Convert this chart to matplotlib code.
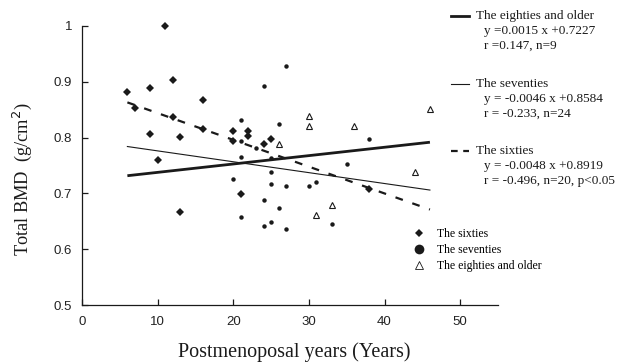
import matplotlib
matplotlib.use("Agg")
import matplotlib.pyplot as plt
from matplotlib.lines import Line2D
import numpy as np

# Bone mineral density against years since menopause, by age group
sixties_x = [6, 7, 9, 9, 10, 11, 12, 12, 13, 13, 16, 16, 20, 20, 21, 22, 22, 24, 25, 38]
sixties_y = [0.882, 0.853, 0.889, 0.806, 0.760, 1.000, 0.903, 0.837, 0.801, 0.667,
             0.867, 0.815, 0.812, 0.794, 0.699, 0.812, 0.803, 0.788, 0.797, 0.707]

seventies_x = [27, 24, 21, 26, 21, 23, 21, 25, 25, 20, 25, 27, 30, 31, 24, 26, 21, 24,
               25, 27, 33, 38, 35]
seventies_y = [0.928, 0.892, 0.832, 0.824, 0.794, 0.781, 0.765, 0.764, 0.739, 0.726,
               0.716, 0.713, 0.713, 0.721, 0.689, 0.674, 0.658, 0.642, 0.649, 0.636,
               0.645, 0.797, 0.753]

eighties_x = [26, 30, 30, 36, 46, 44, 33, 31]
eighties_y = [0.788, 0.839, 0.821, 0.821, 0.852, 0.739, 0.680, 0.661]

# Regression lines over the observed range
fit_x = [6, 46]
sixties_fit = (-0.0048, 0.8919)
eighties_fit = (0.0015, 0.7227)
seventies_line_y = [0.784, 0.706]

legend_texts = [
    ("The eighties and older", "y =0.0015 x +0.7227", "r =0.147, n=9"),
    ("The seventies", "y = -0.0046 x +0.8584", "r = -0.233, n=24"),
    ("The sixties", "y = -0.0048 x +0.8919", "r = -0.496, n=20, p<0.05"),
]

W, H = 618, 362
fig = plt.figure(figsize=(W / 100, H / 100), dpi=100)
ax = fig.add_axes([82 / W, 1 - 305 / H, 416 / W, 279 / H])

SERIF = ["Liberation Serif", "DejaVu Serif"]
SANS = ["Liberation Sans", "DejaVu Sans"]
INK = "#1a1a1a"

fx = np.array(fit_x, dtype=float)
ax.plot(fx, eighties_fit[0] * fx + eighties_fit[1], color=INK, lw=2.0,
        solid_capstyle="butt")
ax.plot(fx, seventies_line_y, color=INK, lw=0.8)
ax.plot(fx, sixties_fit[0] * fx + sixties_fit[1], color=INK, lw=1.6,
        dashes=(3.5, 4.5))

ax.plot(sixties_x, sixties_y, "D", color=INK, ms=4.2, mew=0, ls="none", clip_on=False)
ax.plot(seventies_x, seventies_y, "o", color=INK, ms=3.2, mew=0, ls="none",
        clip_on=False)
ax.plot(eighties_x, eighties_y, "^", mfc="white", mec=INK, ms=5.0, mew=0.8,
        ls="none", clip_on=False)

ax.set_xlim(0, 55)
ax.set_ylim(0.5, 1.0)
ax.set_xticks([0, 10, 20, 30, 40, 50])
ax.set_yticks([0.5, 0.6, 0.7, 0.8, 0.9, 1.0])
ax.set_yticklabels(["0.5", "0.6", "0.7", "0.8", "0.9", "1"])
for s in ("top", "right"):
    ax.spines[s].set_visible(False)
for s in ("left", "bottom"):
    ax.spines[s].set_linewidth(0.9)
    ax.spines[s].set_color(INK)
ax.tick_params(direction="in", length=4, width=0.9, color=INK,
               labelsize=9.5, labelcolor="#222222")
ax.tick_params(axis="x", pad=8)
ax.tick_params(axis="y", pad=7)
for lab in ax.get_xticklabels() + ax.get_yticklabels():
    lab.set_family(SANS)

fig.text(178 / W, 1 - 352 / H, "Postmenoposal years (Years)", family=SERIF,
         fontsize=14.5, ha="left", va="center", color=INK)
fig.text(22 / W, 1 - 179 / H, "Total BMD  (g/cm$^2$)", family=SERIF,
         fontsize=13.2, rotation=90, ha="center", va="center", color=INK)

# Regression legend block
def px(x, y):
    return x / W, 1 - y / H

rows = [(16, 2.0, None), (84, 0.8, None), (151, 1.6, (3.0, 2.5))]
for (ty, lw, dash), (title, eq, stat) in zip(rows, legend_texts):
    x0, y0 = px(451, ty)
    x1, _ = px(469, ty)
    ln = Line2D([x0, x1], [y0, y0], color=INK, lw=lw, transform=fig.transFigure)
    if dash:
        ln.set_dashes(dash)
    fig.add_artist(ln)
    fig.text(*px(476, ty), title, family=SERIF, fontsize=9.5, va="center", color=INK)
    fig.text(*px(484, ty + 15), eq, family=SERIF, fontsize=9.5, va="center", color=INK)
    fig.text(*px(484, ty + 30), stat, family=SERIF, fontsize=9.5, va="center", color=INK)

# Group marker legend
handles = [
    Line2D([], [], marker="D", color=INK, ls="none", ms=4.5, mew=0),
    Line2D([], [], marker="o", color=INK, ls="none", ms=7, mew=0),
    Line2D([], [], marker="^", mfc="white", mec=INK, ls="none", ms=6, mew=0.6),
]
leg = fig.legend(handles, ["The sixties", "The seventies", "The eighties and older"],
                 loc="upper left", bbox_to_anchor=px(412, 228), frameon=False,
                 prop={"family": SERIF, "size": 8.5}, handlelength=1.2,
                 handletextpad=0.9, labelspacing=0.35, borderpad=0, borderaxespad=0)

fig.savefig("out.png", dpi=100)
